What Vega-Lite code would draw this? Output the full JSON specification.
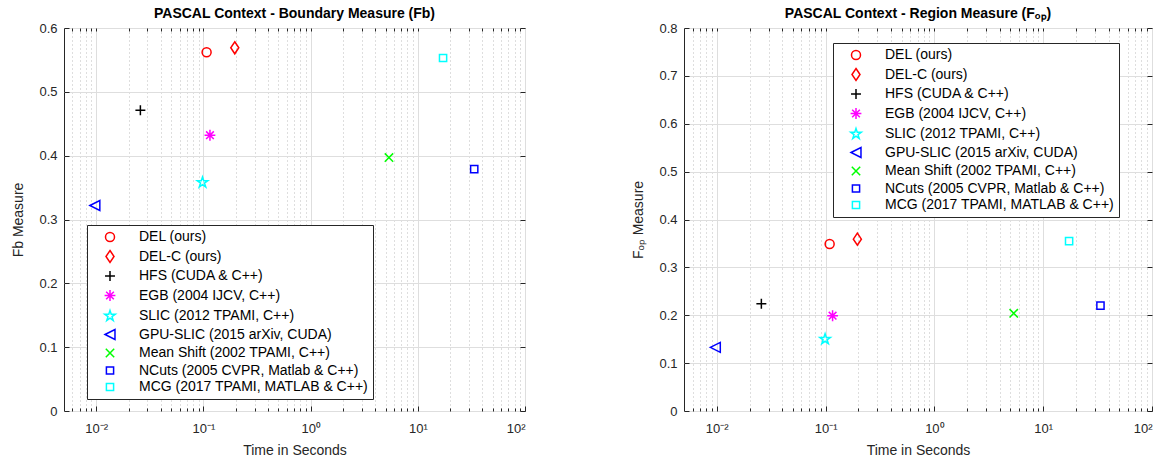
{
  "$schema": "https://vega.github.io/schema/vega-lite/v6.json",
  "padding": {"left": 11, "top": 6, "right": 5, "bottom": 5},
  "background": "white",
  "config": {
    "font": "Liberation Sans",
    "view": {"stroke": "#262626", "strokeWidth": 1},
    "title": {"fontSize": 14, "fontWeight": "bold", "font": "Liberation Sans", "color": "#000000", "offset": 0, "dy": 3},
    "axis": {"labelFont": "Liberation Sans", "labelFontSize": 13, "labelColor": "#262626", "titleFont": "Liberation Sans", "titleFontSize": 14, "titleFontWeight": "normal", "titleColor": "#262626", "tickColor": "#262626", "gridColor": "#dedede", "domain": false},
    "legend": {"title": null, "strokeColor": "#262626", "fillColor": "white", "padding": 5, "symbolOffset": 11, "labelOffset": 22, "rowPadding": 2.5, "labelFontSize": 14, "labelFont": "Liberation Sans", "labelColor": "#000000", "symbolStrokeWidth": 1.5, "symbolSize": 144, "labelLimit": 400}
  },
  "datasets": {
    "fb": [
      {"method": "DEL (ours)", "time": 0.107, "value": 0.562},
      {"method": "DEL-C (ours)", "time": 0.196, "value": 0.569},
      {"method": "HFS (CUDA & C++)", "time": 0.0258, "value": 0.471},
      {"method": "EGB (2004 IJCV, C++)", "time": 0.115, "value": 0.432},
      {"method": "SLIC (2012 TPAMI, C++)", "time": 0.098, "value": 0.358},
      {"method": "GPU-SLIC (2015 arXiv, CUDA)", "time": 0.0097, "value": 0.322},
      {"method": "Mean Shift (2002 TPAMI, C++)", "time": 5.38, "value": 0.397},
      {"method": "NCuts (2005 CVPR, Matlab & C++)", "time": 33.6, "value": 0.379},
      {"method": "MCG (2017 TPAMI, MATLAB & C++)", "time": 17.2, "value": 0.553}
    ],
    "fop": [
      {"method": "DEL (ours)", "time": 0.109, "value": 0.349},
      {"method": "DEL-C (ours)", "time": 0.196, "value": 0.359},
      {"method": "HFS (CUDA & C++)", "time": 0.0257, "value": 0.224},
      {"method": "EGB (2004 IJCV, C++)", "time": 0.116, "value": 0.199},
      {"method": "SLIC (2012 TPAMI, C++)", "time": 0.099, "value": 0.150},
      {"method": "GPU-SLIC (2015 arXiv, CUDA)", "time": 0.0097, "value": 0.133},
      {"method": "Mean Shift (2002 TPAMI, C++)", "time": 5.36, "value": 0.204},
      {"method": "NCuts (2005 CVPR, Matlab & C++)", "time": 33.6, "value": 0.220},
      {"method": "MCG (2017 TPAMI, MATLAB & C++)", "time": 17.3, "value": 0.355}
    ]
  },
  "spacing": 105,
  "resolve": {"scale": {"color": "independent", "shape": "independent"}, "legend": {"color": "independent", "shape": "independent"}},
  "hconcat": [
    {
      "width": 461,
      "height": 383,
      "title": {"text": "PASCAL Context - Boundary Measure (Fb)"},
      "data": {"name": "fb"},
      "resolve": {"axis": {"x": "independent", "y": "independent"}},
      "layer": [
        {
          "mark": {"type": "point", "opacity": 0},
          "encoding": {
            "x": {"field": "time", "type": "quantitative", "scale": {"type": "log", "domain": [0.005, 100], "nice": false},
              "axis": {"orient": "bottom", "values": [0.006, 0.007, 0.008, 0.009, 0.02, 0.03, 0.04, 0.05, 0.06, 0.07, 0.08, 0.09, 0.2, 0.3, 0.4, 0.5, 0.6, 0.7, 0.8, 0.9, 2, 3, 4, 5, 6, 7, 8, 9, 20, 30, 40, 50, 60, 70, 80, 90], "labels": false, "grid": true, "gridDash": [1, 3], "gridColor": "#bdbdbd", "ticks": true, "tickSize": -3, "title": null}},
            "y": {"field": "value", "type": "quantitative", "scale": {"domain": [0, 0.6], "nice": false},
              "axis": {"orient": "right", "values": [0, 0.1, 0.2, 0.3, 0.4, 0.5, 0.6], "labels": false, "grid": false, "ticks": true, "tickSize": -5, "title": null}}
          }
        },
        {
          "mark": {"type": "point", "opacity": 0},
          "encoding": {
            "x": {"field": "time", "type": "quantitative", "scale": {"type": "log", "domain": [0.005, 100], "nice": false},
              "axis": {"orient": "top", "values": [0.006, 0.007, 0.008, 0.009, 0.01, 0.02, 0.03, 0.04, 0.05, 0.06, 0.07, 0.08, 0.09, 0.1, 0.2, 0.3, 0.4, 0.5, 0.6, 0.7, 0.8, 0.9, 1, 2, 3, 4, 5, 6, 7, 8, 9, 10, 20, 30, 40, 50, 60, 70, 80, 90], "labels": false, "grid": false, "ticks": true, "tickSize": -3, "title": null}},
            "y": {"field": "value", "type": "quantitative", "scale": {"domain": [0, 0.6], "nice": false}, "axis": null}
          }
        },
        {
          "mark": {"type": "point", "filled": false, "strokeWidth": 1.5, "opacity": 1, "size": 144},
          "encoding": {
            "x": {"field": "time", "type": "quantitative", "scale": {"type": "log", "domain": [0.005, 100], "nice": false},
              "axis": {"orient": "bottom", "values": [0.01, 0.1, 1, 10, 100], "labelExpr": "datum.value < 0.05 ? '10⁻²' : datum.value < 0.5 ? '10⁻¹' : datum.value < 5 ? '10⁰' : datum.value < 50 ? '10¹' : '10²'", "grid": true, "ticks": true, "tickSize": -5, "labelPadding": 16, "title": "Time in Seconds", "titlePadding": 8}},
            "y": {"field": "value", "type": "quantitative", "scale": {"domain": [0, 0.6], "nice": false},
              "axis": {"orient": "left", "values": [0, 0.1, 0.2, 0.3, 0.4, 0.5, 0.6], "labelExpr": "datum.value == 0 ? '0' : format(datum.value, '.1f')", "grid": true, "ticks": true, "tickSize": -5, "labelPadding": 12, "title": "Fb Measure", "titlePadding": 13}},
            "color": {"field": "method", "type": "nominal",
              "scale": {"domain": ["DEL (ours)", "DEL-C (ours)", "HFS (CUDA & C++)", "EGB (2004 IJCV, C++)", "SLIC (2012 TPAMI, C++)", "GPU-SLIC (2015 arXiv, CUDA)", "Mean Shift (2002 TPAMI, C++)", "NCuts (2005 CVPR, Matlab & C++)", "MCG (2017 TPAMI, MATLAB & C++)"],
                "range": ["#ff0000", "#ff0000", "#000000", "#ff00ff", "#00ffff", "#0000ff", "#00ff00", "#0000ff", "#00ffff"]},
              "legend": {"orient": "none", "legendX": 23, "legendY": 197}},
            "shape": {"field": "method", "type": "nominal",
              "scale": {"domain": ["DEL (ours)", "DEL-C (ours)", "HFS (CUDA & C++)", "EGB (2004 IJCV, C++)", "SLIC (2012 TPAMI, C++)", "GPU-SLIC (2015 arXiv, CUDA)", "Mean Shift (2002 TPAMI, C++)", "NCuts (2005 CVPR, Matlab & C++)", "MCG (2017 TPAMI, MATLAB & C++)"],
                "range": ["M-0.75,0A0.75,0.75,0,1,0,0.75,0A0.75,0.75,0,1,0,-0.75,0Z", "M0,-1L0.67,0L0,1L-0.67,0Z", "M-0.83,0L0.83,0M0,-0.83L0,0.83", "M-0.9,0L0.9,0M0,-0.9L0,0.9M-0.64,-0.64L0.64,0.64M-0.64,0.64L0.64,-0.64", "M0,-0.92L0.207,-0.284L0.875,-0.284L0.334,0.109L0.541,0.744L0,0.351L-0.541,0.744L-0.334,0.109L-0.875,-0.284L-0.207,-0.284Z", "M-0.83,0L0.83,-0.83L0.83,0.83Z", "M-0.7,-0.7L0.7,0.7M-0.7,0.7L0.7,-0.7", "M-0.6,-0.6L0.6,-0.6L0.6,0.6L-0.6,0.6Z", "M-0.6,-0.6L0.6,-0.6L0.6,0.6L-0.6,0.6Z"]},
              "legend": {"orient": "none", "legendX": 23, "legendY": 197}}
          }
        }
      ]
    },
    {
      "width": 468,
      "height": 383,
      "title": {"text": "PASCAL Context - Region Measure (Fₒₚ)"},
      "data": {"name": "fop"},
      "resolve": {"axis": {"x": "independent", "y": "independent"}},
      "layer": [
        {
          "mark": {"type": "point", "opacity": 0},
          "encoding": {
            "x": {"field": "time", "type": "quantitative", "scale": {"type": "log", "domain": [0.005, 100], "nice": false},
              "axis": {"orient": "bottom", "values": [0.006, 0.007, 0.008, 0.009, 0.02, 0.03, 0.04, 0.05, 0.06, 0.07, 0.08, 0.09, 0.2, 0.3, 0.4, 0.5, 0.6, 0.7, 0.8, 0.9, 2, 3, 4, 5, 6, 7, 8, 9, 20, 30, 40, 50, 60, 70, 80, 90], "labels": false, "grid": true, "gridDash": [1, 3], "gridColor": "#bdbdbd", "ticks": true, "tickSize": -3, "title": null}},
            "y": {"field": "value", "type": "quantitative", "scale": {"domain": [0, 0.8], "nice": false},
              "axis": {"orient": "right", "values": [0, 0.1, 0.2, 0.3, 0.4, 0.5, 0.6, 0.7, 0.8], "labels": false, "grid": false, "ticks": true, "tickSize": -5, "title": null}}
          }
        },
        {
          "mark": {"type": "point", "opacity": 0},
          "encoding": {
            "x": {"field": "time", "type": "quantitative", "scale": {"type": "log", "domain": [0.005, 100], "nice": false},
              "axis": {"orient": "top", "values": [0.006, 0.007, 0.008, 0.009, 0.01, 0.02, 0.03, 0.04, 0.05, 0.06, 0.07, 0.08, 0.09, 0.1, 0.2, 0.3, 0.4, 0.5, 0.6, 0.7, 0.8, 0.9, 1, 2, 3, 4, 5, 6, 7, 8, 9, 10, 20, 30, 40, 50, 60, 70, 80, 90], "labels": false, "grid": false, "ticks": true, "tickSize": -3, "title": null}},
            "y": {"field": "value", "type": "quantitative", "scale": {"domain": [0, 0.8], "nice": false}, "axis": null}
          }
        },
        {
          "mark": {"type": "point", "filled": false, "strokeWidth": 1.5, "opacity": 1, "size": 144},
          "encoding": {
            "x": {"field": "time", "type": "quantitative", "scale": {"type": "log", "domain": [0.005, 100], "nice": false},
              "axis": {"orient": "bottom", "values": [0.01, 0.1, 1, 10, 100], "labelExpr": "datum.value < 0.05 ? '10⁻²' : datum.value < 0.5 ? '10⁻¹' : datum.value < 5 ? '10⁰' : datum.value < 50 ? '10¹' : '10²'", "grid": true, "ticks": true, "tickSize": -5, "labelPadding": 16, "title": "Time in Seconds", "titlePadding": 8}},
            "y": {"field": "value", "type": "quantitative", "scale": {"domain": [0, 0.8], "nice": false},
              "axis": {"orient": "left", "values": [0, 0.1, 0.2, 0.3, 0.4, 0.5, 0.6, 0.7, 0.8], "labelExpr": "datum.value == 0 ? '0' : format(datum.value, '.1f')", "grid": true, "ticks": true, "tickSize": -5, "labelPadding": 12, "title": "Fₒₚ Measure", "titlePadding": 13}},
            "color": {"field": "method", "type": "nominal",
              "scale": {"domain": ["DEL (ours)", "DEL-C (ours)", "HFS (CUDA & C++)", "EGB (2004 IJCV, C++)", "SLIC (2012 TPAMI, C++)", "GPU-SLIC (2015 arXiv, CUDA)", "Mean Shift (2002 TPAMI, C++)", "NCuts (2005 CVPR, Matlab & C++)", "MCG (2017 TPAMI, MATLAB & C++)"],
                "range": ["#ff0000", "#ff0000", "#000000", "#ff00ff", "#00ffff", "#0000ff", "#00ff00", "#0000ff", "#00ffff"]},
              "legend": {"orient": "none", "legendX": 149, "legendY": 15}},
            "shape": {"field": "method", "type": "nominal",
              "scale": {"domain": ["DEL (ours)", "DEL-C (ours)", "HFS (CUDA & C++)", "EGB (2004 IJCV, C++)", "SLIC (2012 TPAMI, C++)", "GPU-SLIC (2015 arXiv, CUDA)", "Mean Shift (2002 TPAMI, C++)", "NCuts (2005 CVPR, Matlab & C++)", "MCG (2017 TPAMI, MATLAB & C++)"],
                "range": ["M-0.75,0A0.75,0.75,0,1,0,0.75,0A0.75,0.75,0,1,0,-0.75,0Z", "M0,-1L0.67,0L0,1L-0.67,0Z", "M-0.83,0L0.83,0M0,-0.83L0,0.83", "M-0.9,0L0.9,0M0,-0.9L0,0.9M-0.64,-0.64L0.64,0.64M-0.64,0.64L0.64,-0.64", "M0,-0.92L0.207,-0.284L0.875,-0.284L0.334,0.109L0.541,0.744L0,0.351L-0.541,0.744L-0.334,0.109L-0.875,-0.284L-0.207,-0.284Z", "M-0.83,0L0.83,-0.83L0.83,0.83Z", "M-0.7,-0.7L0.7,0.7M-0.7,0.7L0.7,-0.7", "M-0.6,-0.6L0.6,-0.6L0.6,0.6L-0.6,0.6Z", "M-0.6,-0.6L0.6,-0.6L0.6,0.6L-0.6,0.6Z"]},
              "legend": {"orient": "none", "legendX": 149, "legendY": 15}}
          }
        }
      ]
    }
  ]
}
